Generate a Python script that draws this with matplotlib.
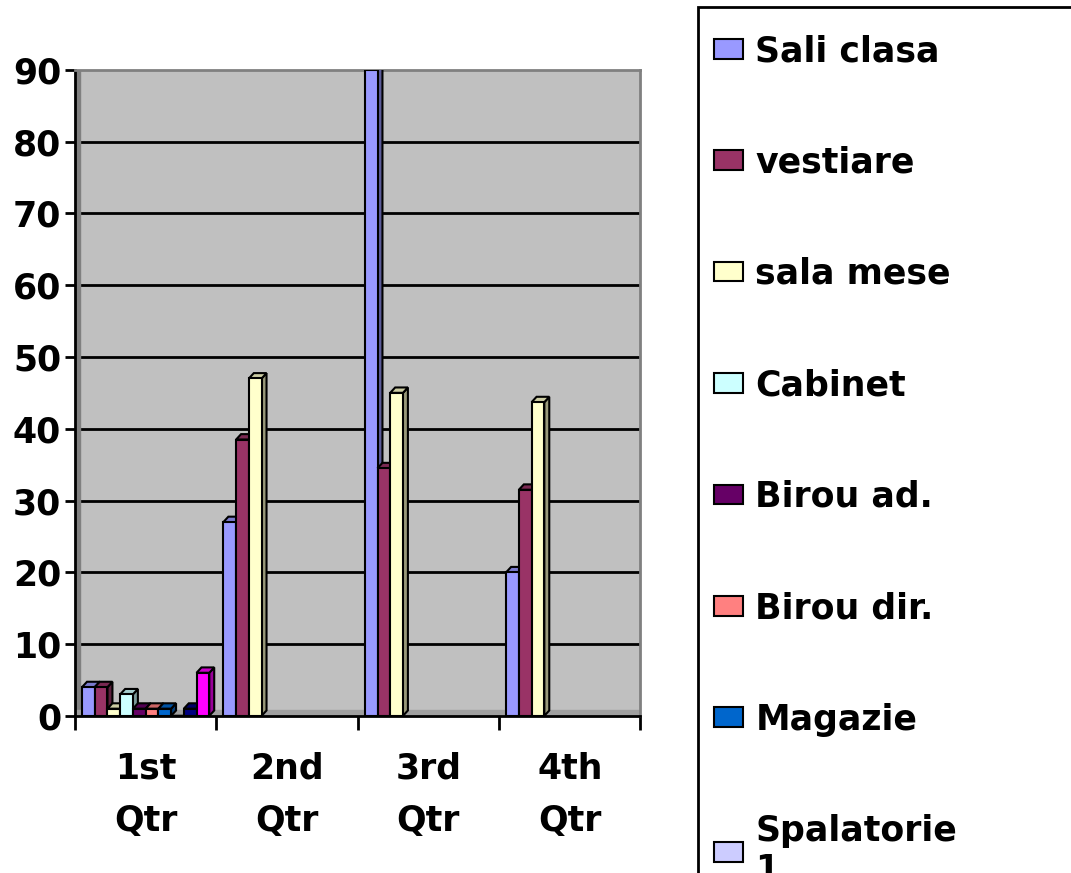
import numpy as np
import matplotlib.pyplot as plt
from matplotlib.patches import Polygon, Rectangle

plt.rcParams['font.family'] = ['DejaVu Sans']
plt.rcParams['font.weight'] = 'bold'

categories = ["1st\nQtr", "2nd\nQtr", "3rd\nQtr", "4th\nQtr"]
series = ["Sali clasa", "vestiare", "sala mese", "Cabinet", "Birou ad.",
          "Birou dir.", "Magazie", "Spalatorie\n1", None, None]
colors = ["#9999FF", "#993366", "#FFFFCC", "#CCFFFF", "#660066",
          "#FF8080", "#0066CC", "#CCCCFF", "#000080", "#FF00FF"]
values = [
    [4, 27, 90, 20],
    [4, 38.5, 34.5, 31.5],
    [1, 47, 45, 43.7],
    [3, 0, 0, 0],
    [1, 0, 0, 0],
    [1, 0, 0, 0],
    [1, 0, 0, 0],
    [0, 0, 0, 0],
    [1, 0, 0, 0],
    [6, 0, 0, 0],
]


def darker(c, f=0.6):
    r, g, b = [int(c[i:i + 2], 16) / 255 for i in (1, 3, 5)]
    return (r * f, g * f, b * f)


fig = plt.figure(figsize=(10.71, 8.73), dpi=100)
ax = fig.add_axes([0.070, 0.180, 0.528, 0.740])
ax.set_facecolor("#C0C0C0")

n = len(series)
w = 0.09
dx, dy = 0.035, 0.75
x = np.arange(len(categories))

ax.set_xlim(-0.5, 3.5)
ax.set_ylim(0, 90)

for yv in range(10, 90, 10):
    ax.axhline(yv, color="black", lw=2, zorder=1)
# side wall / floor shading
ax.axvspan(-0.5, -0.5 + dx, color="#808080", zorder=1)
ax.axhspan(0, dy, color="#A0A0A0", zorder=1)

z = 2
for j in range(len(categories)):
    for i in range(n):
        v = values[i][j]
        if v == 0:
            continue
        left = x[j] - 0.45 + i * w
        ax.bar(left, v, width=w, align="edge", color=colors[i],
               edgecolor="black", lw=1.5, zorder=z + 1)
        side = [(left + w, 0), (left + w + dx, dy), (left + w + dx, v + dy), (left + w, v)]
        top = [(left, v), (left + dx, v + dy), (left + w + dx, v + dy), (left + w, v)]
        ax.add_patch(Polygon(side, closed=True, fc=darker(colors[i]), ec="black", lw=1.5, zorder=z))
        ax.add_patch(Polygon(top, closed=True, fc=darker(colors[i], 0.8), ec="black", lw=1.5, zorder=z))
        z += 2

# legend handles
for i in range(n):
    if series[i]:
        ax.bar(0, 0, color=colors[i], edgecolor="black", lw=1.5, label=series[i])

ax.set_yticks(range(0, 91, 10))
ax.set_yticklabels([str(t) for t in range(0, 91, 10)], fontsize=25, fontweight="bold")
ax.set_xticks(x)
ax.set_xticklabels(categories, fontsize=25, fontweight="bold", linespacing=1.65)
ax.set_xticks(np.arange(-0.5, 4, 1), minor=True)
ax.tick_params(axis="x", which="major", length=0, pad=26)
ax.tick_params(axis="x", which="minor", length=10, width=2, direction="out")
ax.tick_params(axis="y", length=7, width=2, direction="out", pad=3)

for s in ["left", "bottom"]:
    ax.spines[s].set_color("black")
    ax.spines[s].set_linewidth(2)
for s in ["top", "right"]:
    ax.spines[s].set_color("#808080")
    ax.spines[s].set_linewidth(2)

# legend box runs past the right and bottom edges, as in the original
fig.patches.append(Rectangle((0.6517, -0.2), 0.5, 1.192, transform=fig.transFigure,
                             fill=False, edgecolor="black", lw=2))

leg = fig.legend(loc="upper left", bbox_to_anchor=(0.6667, 0.961),
                 fontsize=25, frameon=False,
                 handlelength=0.84, handleheight=0.5, handletextpad=0.35,
                 labelspacing=2.23, borderaxespad=0, borderpad=0)
for t in leg.get_texts():
    t.set_fontweight("bold")

fig.savefig("out.png", dpi=100)
